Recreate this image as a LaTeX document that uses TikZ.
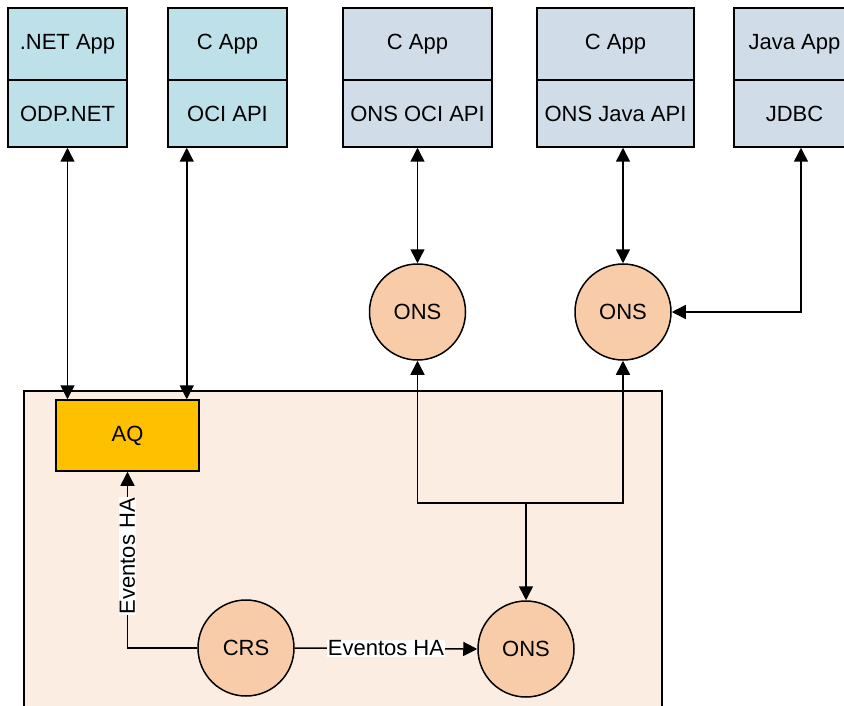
\documentclass[tikz,border=0pt]{standalone}
\usepackage{fontspec}
\setmainfont{Liberation Sans}
\usetikzlibrary{arrows.meta}
\definecolor{appcyan}{HTML}{BDE0E9}
\definecolor{appgrey}{HTML}{D0DDE8}
\definecolor{onsfill}{HTML}{F8CCA9}
\definecolor{aqfill}{HTML}{FFC000}
\definecolor{contfill}{HTML}{FCEDE3}
\begin{document}
\begin{tikzpicture}[x=1pt,y=-1pt,
  font=\fontsize{22}{26}\selectfont,
  line width=1.5pt,
  >={Triangle[length=14pt,width=14pt]},
  boxtop/.style={draw, inner sep=0pt, minimum height=72pt},
  boxbot/.style={draw, inner sep=0pt, minimum height=67pt},
  onscirc/.style={draw, circle, fill=onsfill, inner sep=0pt, minimum size=96pt},
  lbl/.style={fill=white, inner sep=1pt}]
\useasboundingbox (0,0) rectangle (844,706);
% container
\node[draw, fill=contfill, minimum width=638pt, minimum height=329pt, inner sep=0pt] (cont) at (343,555.5) {};
% application boxes
\node[boxtop, fill=appcyan, minimum width=119pt] (netapp) at (67.5,44) {.NET App};
\node[boxbot, fill=appcyan, minimum width=119pt] (odp) at (67.5,113.5) {ODP.NET};
\node[boxtop, fill=appcyan, minimum width=119pt] (capp1) at (227.5,44) {C App};
\node[boxbot, fill=appcyan, minimum width=119pt] (oci) at (227.5,113.5) {OCI API};
\node[boxtop, fill=appgrey, minimum width=149pt] (capp2) at (417.5,44) {C App};
\node[boxbot, fill=appgrey, minimum width=149pt] (onsoci) at (417.5,113.5) {ONS OCI API};
\node[boxtop, fill=appgrey, minimum width=157pt] (capp3) at (615.5,44) {C App};
\node[boxbot, fill=appgrey, minimum width=157pt] (onsjava) at (615.5,113.5) {ONS Java API};
\node[boxtop, fill=appgrey, minimum width=121pt] (javaapp) at (794.5,44) {Java App};
\node[boxbot, fill=appgrey, minimum width=121pt] (jdbc) at (794.5,113.5) {JDBC};
% ONS circles
\node[onscirc] (ons1) at (417.5,312) {ONS};
\node[onscirc] (ons2) at (623,312) {ONS};
\node[onscirc] (ons3) at (526,649) {ONS};
\node[onscirc] (crs) at (246,648) {CRS};
% AQ
\node[draw, fill=aqfill, minimum width=143pt, minimum height=71pt, inner sep=0pt] (aq) at (127.5,435.5) {AQ};
% connectors
\draw[<->] (odp.south) -- (odp.south |- aq.north);
\draw[<->] ([xshift=-13pt]aq.north east) -- ([xshift=-13pt]aq.north east |- oci.south);
\draw[<->] (onsoci.south) -- (ons1.north);
\draw[<->] ([xshift=7.5pt]onsjava.south) -- (ons2.north);
\draw[<->] ([xshift=6.5pt]jdbc.south) |- (ons2.east);
\coordinate (j) at (526,503);
\draw[->] (j) -| (ons1.south);
\draw[->] (j) -| (ons2.south);
\draw[->] (j) -- (ons3.north);
\draw[->] (crs.west) -| node[lbl, pos=0.76, rotate=90] {Eventos HA} (aq.south);
\draw[->] (crs.east) -- node[lbl, pos=0.5] {Eventos HA} (ons3.west);
\end{tikzpicture}
\end{document}
